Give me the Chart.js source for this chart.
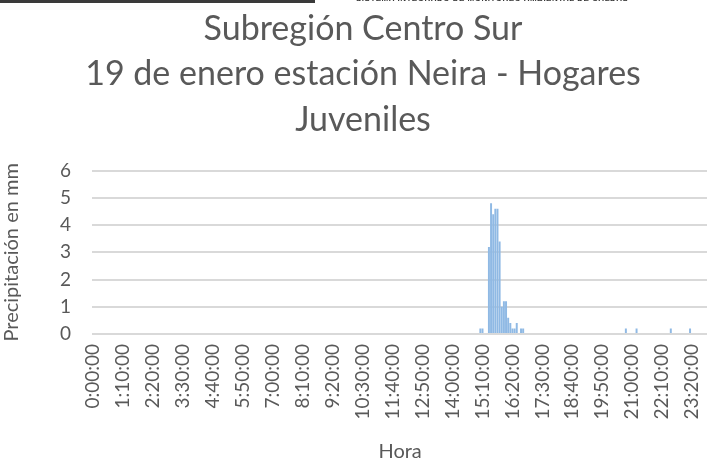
<!DOCTYPE html>
<html>
<head>
<meta charset="utf-8">
<script src="https://cdn.jsdelivr.net/npm/chart.js@4.4.1/dist/chart.umd.min.js"></script>
<style>
  html, body { margin: 0; padding: 0; background: #ffffff; }
  #wrap { position: relative; width: 707px; height: 470px; overflow: hidden; background: #fff; }
  #box { position: absolute; left: 0; top: 0; width: 740px; height: 470px; }
  #bar { position: absolute; left: 0; top: 0; width: 315px; height: 3px; background: #3a3a3a; }
  #hdr { position: absolute; left: 356px; top: -6px; font: bold 8px "Liberation Sans", sans-serif; color: #333; white-space: nowrap; letter-spacing: 0.5px; }
</style>
</head>
<body>
<div id="wrap">
  <div id="box"><canvas id="c" width="740" height="470"></canvas></div>
  <div id="bar"></div>
  <div id="hdr">SISTEMA INTEGRADO DE MONITOREO AMBIENTAL DE CALDAS</div>
</div>
<script>
// ---- data ----
const tituloLineas = ['Subregión Centro Sur', '19 de enero estación Neira - Hogares', 'Juveniles'];
const tituloEjeY = 'Precipitación en mm';
const tituloEjeX = 'Hora';
// category labels: every 5 minutes of the day
const horas = [];
for (let i = 0; i < 288; i++) {
  const t = i * 5;
  const h = Math.floor(t / 60), m = t % 60;
  horas.push(h + ':' + String(m).padStart(2, '0') + ':00');
}
// readings with rain (all other 5-min intervals are 0 mm)
const horasLluvia = ['15:05:00','15:10:00','15:25:00','15:30:00','15:35:00','15:40:00','15:45:00','15:50:00',
  '15:55:00','16:00:00','16:05:00','16:10:00','16:15:00','16:20:00','16:25:00','16:30:00','16:40:00','16:45:00',
  '20:45:00','21:10:00','22:30:00','23:15:00'];
const mmLluvia = [0.2, 0.2, 3.2, 4.8, 4.4, 4.6, 4.6, 3.4,
  1.0, 1.2, 1.2, 0.6, 0.4, 0.2, 0.2, 0.4, 0.2, 0.2,
  0.2, 0.2, 0.2, 0.2];
const precipitacion = horas.map(h => {
  const k = horasLluvia.indexOf(h);
  return k >= 0 ? mmLluvia[k] : 0;
});
const pasoEtiqueta = 14; // a label every 70 minutes

const gris = '#595959';
const fuente = 'Lato, "Open Sans", sans-serif';

new Chart(document.getElementById('c'), {
  type: 'bar',
  data: {
    labels: horas,
    datasets: [{
      data: precipitacion,
      backgroundColor: '#8fb9e4',
      borderWidth: 0,
      barPercentage: 1,
      categoryPercentage: 0.92
    }]
  },
  options: {
    responsive: false,
    animation: false,
    devicePixelRatio: 1,
    layout: { padding: { left: 0, right: 14, top: 0, bottom: 0 } },
    plugins: {
      legend: { display: false },
      tooltip: { enabled: false },
      title: {
        display: true,
        text: tituloLineas,
        color: gris,
        font: { family: fuente, size: 34, weight: 'normal', lineHeight: 1.338 },
        padding: { top: 6, bottom: 28.2 }
      }
    },
    scales: {
      x: {
        grid: { display: false, drawTicks: false },
        border: { display: false },
        ticks: {
          autoSkip: false,
          minRotation: 90,
          maxRotation: 90,
          padding: 10,
          color: gris,
          font: { family: fuente, size: 19 },
          callback: function (v, i) { return i % pasoEtiqueta === 0 ? horas[i] : ''; }
        },
        title: {
          display: true,
          text: tituloEjeX,
          color: gris,
          font: { family: fuente, size: 20 },
          padding: { top: 4, bottom: 6 }
        },
        afterFit: s => { s.height = 136; }
      },
      y: {
        min: 0,
        max: 6,
        grid: { color: '#d9d9d9', lineWidth: 2, drawTicks: false },
        border: { display: false },
        ticks: {
          stepSize: 1,
          padding: 21,
          color: gris,
          font: { family: fuente, size: 19 }
        },
        title: {
          display: true,
          text: tituloEjeY,
          color: gris,
          font: { family: fuente, size: 20 },
          padding: { top: 0, bottom: 0 }
        },
        afterFit: s => { s.width = 92; }
      }
    }
  }
});
</script>
</body>
</html>
